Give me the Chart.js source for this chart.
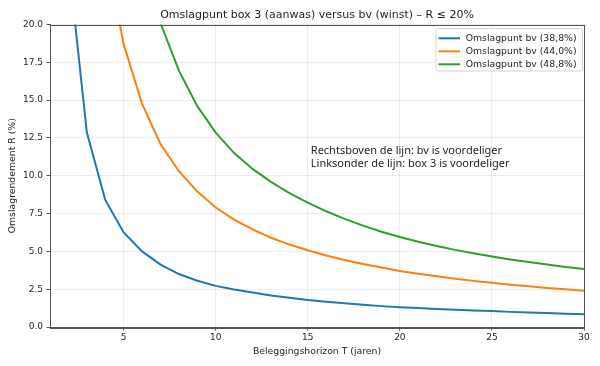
<!DOCTYPE html>
<html>
<head>
<meta charset="utf-8">
<script src="https://cdn.jsdelivr.net/npm/chart.js@4.4.0/dist/chart.umd.min.js"></script>
<style>
  html, body { margin: 0; padding: 0; background: #fff; }
  #wrap { width: 600px; height: 366px; }
</style>
</head>
<body>
<div id="wrap"><canvas id="chart"></canvas></div>
<script>
// Beleggingshorizon T (jaren)
const horizon = [2, 3, 4, 5, 6, 7, 8, 9, 10, 11, 12, 13, 14, 15, 16, 17, 18, 19, 20, 21, 22, 23, 24, 25, 26, 27, 28, 29, 30];

// Omslagrendement R (%) per lijn
const bv388 = [24.2, 12.87, 8.4, 6.25, 5.0, 4.12, 3.5, 3.06, 2.72, 2.48, 2.28, 2.09, 1.93, 1.79, 1.67, 1.57, 1.47, 1.38, 1.31, 1.25, 1.19, 1.14, 1.09, 1.05, 1.0, 0.96, 0.92, 0.88, 0.84];
const bv440 = [null, null, 25.0, 18.7, 14.75, 12.1, 10.3, 8.95, 7.9, 7.1, 6.45, 5.9, 5.45, 5.07, 4.73, 4.43, 4.17, 3.93, 3.7, 3.52, 3.35, 3.19, 3.05, 2.92, 2.8, 2.69, 2.58, 2.49, 2.4];
const bv488 = [null, null, null, null, 24.5, 20.1, 16.95, 14.6, 12.85, 11.5, 10.45, 9.6, 8.85, 8.22, 7.65, 7.15, 6.7, 6.3, 5.95, 5.64, 5.36, 5.1, 4.87, 4.66, 4.47, 4.29, 4.13, 3.97, 3.83];

const seriesLabels = ['Omslagpunt bv (38,8%)', 'Omslagpunt bv (44,0%)', 'Omslagpunt bv (48,8%)'];
const seriesColors = ['#1f77b4', '#ff7f0e', '#2ca02c'];

const xTicks = [5, 10, 15, 20, 25, 30];
const yTicks = [0, 2.5, 5, 7.5, 10, 12.5, 15, 17.5, 20];

const noteLines = ['Rechtsboven de lijn: bv is voordeliger', 'Linksonder de lijn: box 3 is voordeliger'];

const FONT = 'DejaVu Sans';
const TEXT = '#1f1f1f';

function toPoints(values) {
    return horizon.map((t, i) => ({ x: t, y: values[i] }));
}

const datasets = [bv388, bv440, bv488].map((vals, i) => ({
    label: seriesLabels[i],
    data: toPoints(vals),
    borderColor: seriesColors[i],
    borderWidth: 2,
    pointRadius: 0,
    tension: 0,
    fill: false
}));

// kader rond het plotgebied (zoals matplotlib)
const framePlugin = {
    id: 'frame',
    afterDatasetsDraw(chart) {
        const { ctx, chartArea: a } = chart;
        ctx.save();
        ctx.strokeStyle = '#555';
        ctx.lineWidth = 1;
        ctx.strokeRect(Math.round(a.left) + 0.5, Math.round(a.top) + 0.5, Math.round(a.right - a.left), Math.round(a.bottom - a.top));
        ctx.restore();
    }
};

// tekst in de grafiek
const notePlugin = {
    id: 'note',
    afterDatasetsDraw(chart) {
        const { ctx } = chart;
        const x = chart.scales.x.getPixelForValue(15) + 3;
        const y = chart.scales.y.getPixelForValue(11.65);
        ctx.save();
        ctx.font = '11px "Noto Sans"';
        ctx.fillStyle = TEXT;
        ctx.textBaseline = 'middle';
        noteLines.forEach((line, i) => ctx.fillText(line, x, y + i * 13.4));
        ctx.restore();
    }
};

// legenda rechtsboven in het plotgebied
const legendPlugin = {
    id: 'innerLegend',
    afterDraw(chart) {
        const { ctx, chartArea: a } = chart;
        const bw = 146.5, bh = 42.5;
        const bx = a.right - 148, by = a.top + 4;
        ctx.save();
        ctx.beginPath();
        ctx.roundRect(bx, by, bw, bh, 2.5);
        ctx.fillStyle = 'rgba(255,255,255,0.85)';
        ctx.fill();
        ctx.strokeStyle = '#d4d4d4';
        ctx.lineWidth = 1;
        ctx.stroke();
        ctx.font = '9.3px "' + FONT + '"';
        ctx.textBaseline = 'middle';
        seriesLabels.forEach((label, i) => {
            const ly = by + 9.8 + i * 13;
            ctx.strokeStyle = seriesColors[i];
            ctx.lineWidth = 2;
            ctx.beginPath();
            ctx.moveTo(bx + 2.5, ly);
            ctx.lineTo(bx + 24, ly);
            ctx.stroke();
            ctx.fillStyle = TEXT;
            ctx.fillText(label, bx + 29.7, ly);
        });
        ctx.restore();
    }
};

const gridOpts = {
    color: 'rgba(0,0,0,0.07)',
    lineWidth: 1,
    tickLength: 3.5,
    tickColor: '#555',
    tickWidth: 1
};

new Chart(document.getElementById('chart'), {
    type: 'line',
    data: { datasets },
    options: {
        responsive: true,
        maintainAspectRatio: false,
        animation: false,
        layout: { padding: { left: 7.5, right: 16, top: 0, bottom: 9 } },
        plugins: {
            legend: { display: false },
            tooltip: { enabled: false },
            title: {
                display: true,
                fullSize: false,
                text: 'Omslagpunt box 3 (aanwas) versus bv (winst) – R ≤ 20%',
                color: TEXT,
                font: { family: FONT, size: 11, weight: 'normal' },
                padding: { top: 9, bottom: 2.3 }
            }
        },
        scales: {
            x: {
                type: 'linear',
                min: 1,
                max: 30,
                afterBuildTicks: s => { s.ticks = xTicks.map(v => ({ value: v })); },
                afterFit: s => { s.height = 30; },
                grid: gridOpts,
                border: { color: '#555', width: 1 },
                ticks: {
                    color: TEXT,
                    font: { family: FONT, size: 9 },
                    padding: 1.5,
                    maxRotation: 0,
                    callback: v => String(v)
                },
                title: {
                    display: true,
                    text: 'Beleggingshorizon T (jaren)',
                    color: TEXT,
                    font: { family: FONT, size: 9.3 },
                    padding: 0
                }
            },
            y: {
                min: 0,
                max: 20,
                afterBuildTicks: s => { s.ticks = yTicks.map(v => ({ value: v })); },
                afterFit: s => { s.width = 42.5; },
                grid: gridOpts,
                border: { color: '#555', width: 1 },
                ticks: {
                    color: TEXT,
                    font: { family: FONT, size: 9 },
                    padding: 3.5,
                    callback: v => v.toFixed(1)
                },
                title: {
                    display: true,
                    text: 'Omslagrendement R (%)',
                    color: TEXT,
                    font: { family: FONT, size: 9.3 },
                    padding: 0
                }
            }
        }
    },
    plugins: [framePlugin, notePlugin, legendPlugin]
});
</script>
</body>
</html>
